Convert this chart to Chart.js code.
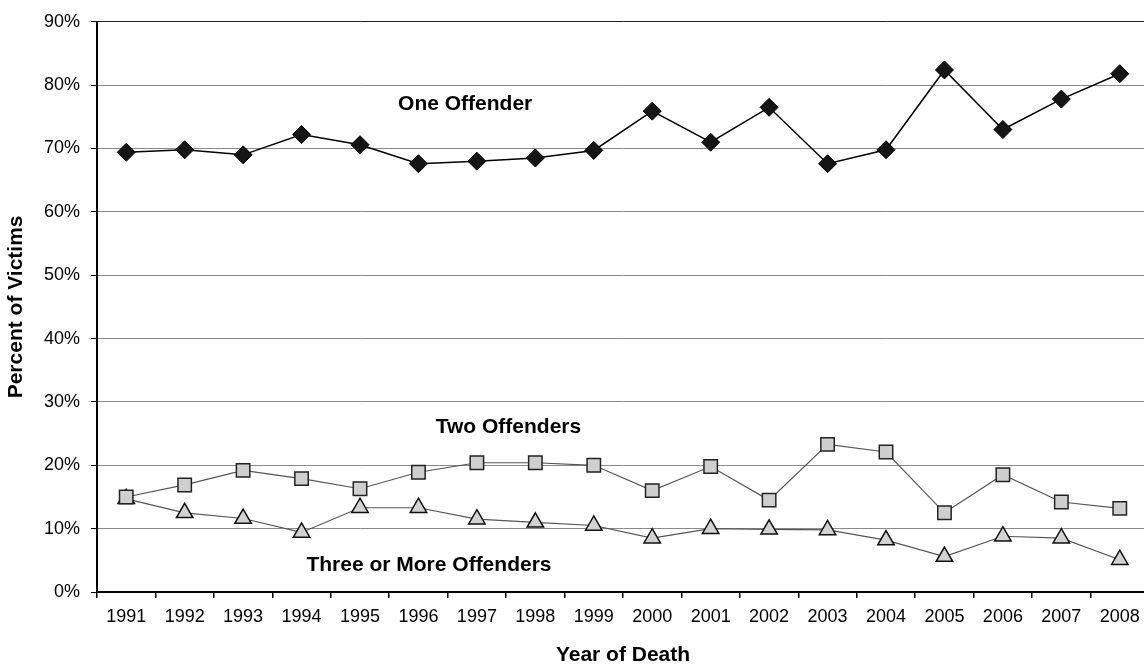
<!DOCTYPE html>
<html>
<head>
<meta charset="utf-8">
<script src="https://cdn.jsdelivr.net/npm/chart.js@4.4.1/dist/chart.umd.min.js"></script>
<style>
  html, body { margin: 0; padding: 0; background: #fff; overflow: hidden; width: 1144px; height: 668px; }
  canvas { display: block; }
</style>
</head>
<body>
<canvas id="c" width="1160" height="668"></canvas>
<script>
const years = ['1991','1992','1993','1994','1995','1996','1997','1998','1999','2000','2001','2002','2003','2004','2005','2006','2007','2008'];
const oneOffender = [69.4, 69.8, 69.0, 72.2, 70.6, 67.6, 68.0, 68.5, 69.7, 75.9, 71.0, 76.5, 67.6, 69.8, 82.4, 73.0, 77.8, 81.8];
const twoOffenders = [15.0, 16.9, 19.2, 17.9, 16.3, 18.9, 20.4, 20.4, 20.0, 16.0, 19.8, 14.5, 23.3, 22.1, 12.5, 18.5, 14.2, 13.2];
const threeOrMore = [14.7, 12.5, 11.6, 9.4, 13.3, 13.3, 11.5, 11.0, 10.5, 8.5, 10.0, 9.9, 9.8, 8.2, 5.6, 8.8, 8.5, 5.1];
const yTicks = [0, 10, 20, 30, 40, 50, 60, 70, 80, 90];
const seriesLabels = ['One Offender', 'Two Offenders', 'Three or More Offenders'];

const FONT = "'Liberation Sans', Arial, sans-serif";

const annotations = [
  { text: seriesLabels[0], x: 5.8, y: 77.0 },
  { text: seriesLabels[1], x: 6.54, y: 26.0 },
  { text: seriesLabels[2], x: 5.18, y: 4.3 }
];

const labelPlugin = {
  id: 'seriesLabels',
  afterDatasetsDraw(chart) {
    const { ctx, scales: { x, y } } = chart;
    ctx.save();
    ctx.font = "bold 21px " + FONT;
    ctx.fillStyle = '#000';
    ctx.textAlign = 'center';
    ctx.textBaseline = 'middle';
    annotations.forEach(a => {
      const px = x.getPixelForValue(0) + a.x * (x.getPixelForValue(1) - x.getPixelForValue(0));
      ctx.fillText(a.text, px, y.getPixelForValue(a.y));
    });
    ctx.restore();
  }
};

new Chart(document.getElementById('c'), {
  type: 'line',
  data: {
    labels: years,
    datasets: [
      {
        label: seriesLabels[0],
        data: oneOffender,
        borderColor: '#000',
        borderWidth: 1.5,
        pointStyle: 'rectRot',
        pointRadius: 9,
        pointBackgroundColor: '#151515',
        pointBorderColor: '#000',
        pointBorderWidth: 1,
        tension: 0
      },
      {
        label: seriesLabels[1],
        data: twoOffenders,
        borderColor: '#555',
        borderWidth: 1.2,
        pointStyle: 'rect',
        pointRadius: 9.5,
        pointBackgroundColor: '#cfcfcf',
        pointBorderColor: '#222',
        pointBorderWidth: 1.5,
        tension: 0
      },
      {
        label: seriesLabels[2],
        data: threeOrMore,
        borderColor: '#555',
        borderWidth: 1.2,
        pointStyle: 'triangle',
        pointRadius: 9.5,
        pointBackgroundColor: '#d2d2d2',
        pointBorderColor: '#111',
        pointBorderWidth: 1.5,
        tension: 0
      }
    ]
  },
  options: {
    responsive: false,
    animation: false,
    devicePixelRatio: 1,
    layout: { padding: { top: 19, right: 1, bottom: 0, left: 0 } },
    plugins: {
      legend: { display: false },
      tooltip: { enabled: false }
    },
    scales: {
      x: {
        offset: true,
        afterFit: s => { s.height = 76; },
        grid: {
          offset: true,
          drawOnChartArea: false,
          drawTicks: true,
          tickLength: 6,
          color: '#000',
          lineWidth: 1.5
        },
        border: { display: true, color: '#000', width: 2 },
        ticks: {
          color: '#000',
          font: { family: FONT, size: 18 },
          padding: 8,
          maxRotation: 0,
          autoSkip: false
        },
        title: {
          display: true,
          text: 'Year of Death',
          color: '#000',
          font: { family: FONT, size: 21, weight: 'bold' },
          padding: { top: 0, bottom: 0 }
        }
      },
      y: {
        min: 0,
        max: 90,
        afterFit: s => { s.width = 97; },
        afterBuildTicks: s => { s.ticks = yTicks.map(v => ({ value: v })); },
        grid: {
          color: ctx => (ctx.tick && ctx.tick.value === 90) ? '#222' : '#8a8a8a',
          lineWidth: 1,
          drawTicks: true,
          tickLength: 6,
          tickColor: '#000'
        },
        border: { display: true, color: '#000', width: 2 },
        ticks: {
          color: '#000',
          font: { family: FONT, size: 18 },
          padding: 11,
          callback: v => v + '%'
        },
        title: {
          display: true,
          text: 'Percent of Victims',
          color: '#000',
          font: { family: FONT, size: 21, weight: 'bold' },
          padding: { top: 4, bottom: 0 }
        }
      }
    }
  },
  plugins: [labelPlugin]
});
</script>
</body>
</html>
